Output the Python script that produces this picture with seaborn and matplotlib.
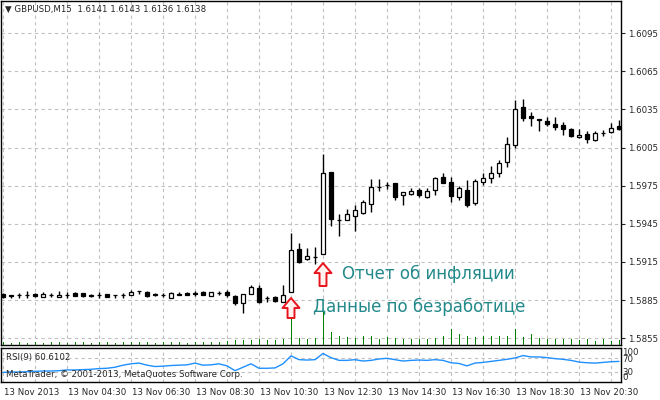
import matplotlib
matplotlib.use("Agg")
import matplotlib.pyplot as plt
import matplotlib.transforms as mtransforms
import numpy as np
import seaborn as sns

# GBPUSD M15, 13 Nov 2013, 02:30 .. 21:45
opens = [1.58897, 1.58889, 1.58889, 1.58893, 1.58897, 1.58874, 1.58889, 1.58874, 1.58889, 1.58905,
         1.58905, 1.58889, 1.58889, 1.58897, 1.58889, 1.58889, 1.58889, 1.58921, 1.58913, 1.58897,
         1.58889, 1.58866, 1.58901, 1.58909, 1.58905, 1.58917, 1.58881, 1.58905, 1.58913, 1.58881,
         1.58826, 1.58897, 1.58944, 1.58866, 1.58874, 1.58834, 1.58913, 1.59251, 1.59173, 1.59188,
         1.59212, 1.59857, 1.59483, 1.59480, 1.59511, 1.59535, 1.59606, 1.59739, 1.59755, 1.59771,
         1.59676, 1.59684, 1.59716, 1.59661, 1.59716, 1.59818, 1.59779, 1.59661, 1.59716, 1.59613,
         1.59779, 1.59810, 1.59849, 1.59936, 1.60070, 1.60369, 1.60298, 1.60274, 1.60259, 1.60235,
         1.60227, 1.60196, 1.60133, 1.60157, 1.60109, 1.60165, 1.60172, 1.60219]
highs = [1.58905, 1.58889, 1.58905, 1.58921, 1.58905, 1.58913, 1.58905, 1.58921, 1.58913, 1.58913,
         1.58905, 1.58897, 1.58913, 1.58897, 1.58889, 1.58905, 1.58929, 1.58921, 1.58921, 1.58905,
         1.58905, 1.58915, 1.58913, 1.58913, 1.58921, 1.58921, 1.58913, 1.58921, 1.58929, 1.58889,
         1.58897, 1.58968, 1.58968, 1.58881, 1.58881, 1.58968, 1.59377, 1.59299, 1.59259, 1.59267,
         1.59999, 1.59857, 1.59527, 1.59566, 1.59598, 1.59637, 1.59802, 1.59802, 1.59779, 1.59771,
         1.59700, 1.59731, 1.59731, 1.59731, 1.59818, 1.59849, 1.59818, 1.59747, 1.59794, 1.59802,
         1.59849, 1.59905, 1.59952, 1.60133, 1.60424, 1.60432, 1.60330, 1.60274, 1.60290, 1.60290,
         1.60251, 1.60204, 1.60196, 1.60180, 1.60180, 1.60188, 1.60243, 1.60266]
lows = [1.58866, 1.58866, 1.58866, 1.58866, 1.58874, 1.58874, 1.58874, 1.58874, 1.58866, 1.58881,
        1.58874, 1.58874, 1.58866, 1.58874, 1.58866, 1.58866, 1.58889, 1.58897, 1.58874, 1.58881,
        1.58874, 1.58866, 1.58889, 1.58889, 1.58881, 1.58889, 1.58881, 1.58889, 1.58874, 1.58811,
        1.58748, 1.58897, 1.58826, 1.58834, 1.58834, 1.58834, 1.58913, 1.59141, 1.59165, 1.59133,
        1.59212, 1.59432, 1.59354, 1.59480, 1.59393, 1.59527, 1.59543, 1.59708, 1.59724, 1.59637,
        1.59598, 1.59676, 1.59661, 1.59653, 1.59676, 1.59771, 1.59621, 1.59637, 1.59582, 1.59598,
        1.59755, 1.59771, 1.59818, 1.59897, 1.60046, 1.60259, 1.60219, 1.60180, 1.60219, 1.60188,
        1.60149, 1.60133, 1.60125, 1.60086, 1.60101, 1.60141, 1.60165, 1.60188]
closes = [1.58874, 1.58881, 1.58889, 1.58893, 1.58881, 1.58897, 1.58889, 1.58889, 1.58889, 1.58881,
          1.58881, 1.58881, 1.58889, 1.58874, 1.58889, 1.58889, 1.58913, 1.58921, 1.58881, 1.58889,
          1.58889, 1.58905, 1.58893, 1.58893, 1.58897, 1.58893, 1.58913, 1.58905, 1.58889, 1.58826,
          1.58897, 1.58952, 1.58834, 1.58866, 1.58842, 1.58889, 1.59244, 1.59149, 1.59196, 1.59188,
          1.59849, 1.59487, 1.59480, 1.59527, 1.59558, 1.59621, 1.59739, 1.59739, 1.59755, 1.59661,
          1.59700, 1.59708, 1.59676, 1.59708, 1.59810, 1.59771, 1.59668, 1.59731, 1.59598, 1.59787,
          1.59810, 1.59849, 1.59928, 1.60078, 1.60353, 1.60282, 1.60282, 1.60266, 1.60235, 1.60211,
          1.60200, 1.60141, 1.60149, 1.60117, 1.60165, 1.60165, 1.60204, 1.60196]
tick_volume = [75, 50, 75, 50, 75, 50, 75, 75, 50, 75, 75, 50, 75, 75, 50, 75, 75, 75, 75, 50,
               75, 75, 75, 50, 75, 75, 75, 75, 100, 125, 125, 125, 150, 125, 125, 150, 650, 175,
               150, 175, 825, 325, 225, 200, 175, 225, 225, 150, 200, 175, 150, 150, 150, 150,
               175, 225, 400, 275, 225, 200, 225, 225, 225, 225, 400, 200, 275, 175, 150, 150,
               150, 150, 125, 150, 100, 150, 100, 125]
rsi_values = [28.3, 29.3, 29.3, 30.3, 31.3, 32.3, 32.3, 33.3, 35.4, 35.4, 36.4, 37.4, 39.4, 40.4,
              43.4, 49.5, 53.5, 55.6, 49.5, 45.5, 46.5, 48.5, 49.5, 50.5, 55.6, 49.5, 50.5, 53.5,
              47.5, 33.3, 43.4, 53.5, 40.4, 40.4, 41.4, 53.5, 76.8, 65.7, 64.6, 65.7, 83.8, 71.7,
              63.6, 63.6, 65.7, 61.6, 63.6, 67.7, 69.7, 65.7, 61.6, 63.6, 64.6, 63.6, 65.7, 63.6,
              56.6, 54.5, 47.5, 55.6, 57.6, 60.6, 63.6, 66.7, 70.7, 77.8, 73.7, 73.7, 71.7, 68.7,
              66.7, 63.6, 58.6, 56.6, 55.6, 57.6, 59.6, 60.6]

price_ticks = [1.5855, 1.5885, 1.5915, 1.5945, 1.5975, 1.6005, 1.6035, 1.6065, 1.6095]
time_labels = ["13 Nov 2013", "13 Nov 04:30", "13 Nov 06:30", "13 Nov 08:30", "13 Nov 10:30",
               "13 Nov 12:30", "13 Nov 14:30", "13 Nov 16:30", "13 Nov 18:30", "13 Nov 20:30"]
rsi_levels = [0, 30, 70, 100]

GRID = "#c0c0c0"
SMALL = 6.2

sns.set_style("white")
plt.rcParams["font.family"] = ["DejaVu Sans"]

bars = np.arange(len(opens))
o = np.array(opens)
c = np.array(closes)
up = c >= o

fig = plt.figure(figsize=(6.6, 4.0), dpi=100)
ax = fig.add_axes([1 / 660, 55 / 400, 620 / 660, 344 / 400])
rsi_ax = fig.add_axes([1 / 660, 18 / 400, 620 / 660, 34 / 400], sharex=ax)

for a in (ax, rsi_ax):
    for s in a.spines.values():
        s.set_color("black")
        s.set_linewidth(1)
    a.set_xticks(np.arange(0, len(opens), 4), minor=True)
    a.grid(True, which="both", axis="x", color=GRID, linestyle=(0, (3, 3)), linewidth=0.8)
    a.set_axisbelow(True)

# main panel
ax.grid(True, axis="y", color=GRID, linestyle=(0, (3, 3)), linewidth=0.8)
vol_ax = ax.twinx()
vol_ax.vlines(bars, 0, tick_volume, color="#008000", linewidth=0.72, antialiased=False)
vol_ax.set_ylim(0, 8600)
vol_ax.axis("off")

ax.vlines(bars, lows, highs, color="black", linewidth=1, zorder=3)
ax.bar(bars[up], (c - o)[up], bottom=o[up], width=0.62, facecolor="white",
       edgecolor="black", linewidth=0.9, zorder=4)
ax.bar(bars[~up], (o - c)[~up], bottom=c[~up], width=0.62, facecolor="black",
       edgecolor="black", linewidth=0.9, zorder=4)

ax.set_xlim(-0.25, 77.25)
ax.set_ylim(1.58496, 1.61204)
ax.yaxis.tick_right()
ax.set_yticks(price_ticks)
ax.set_yticklabels([f"{p:.4f}" for p in price_ticks])
ax.tick_params(axis="y", which="major", direction="out", length=3, width=0.8,
               labelsize=SMALL, pad=2, right=True, left=False)
ax.tick_params(axis="x", which="both", length=0, labelbottom=False)

fig.text(5 / 660, 1 - 9 / 400, "\u25BC GBPUSD,M15  1.6141 1.6143 1.6136 1.6138",
         fontsize=SMALL, va="center", ha="left")

# news arrows and captions
def arrow_at(i, tip_pt, tail_pt):
    tip = mtransforms.offset_copy(ax.transData, fig=fig, y=-tip_pt, units="points")
    tail = mtransforms.offset_copy(ax.transData, fig=fig, y=-tail_pt, units="points")
    ax.annotate("", xy=(i, lows[i]), xycoords=tip, xytext=(i, lows[i]), textcoords=tail,
                arrowprops=dict(arrowstyle="simple,head_length=0.72,head_width=1.22,tail_width=0.5",
                                mutation_scale=10, fc="#fff2ee", ec="#e8141c", lw=1.4,
                                shrinkA=0, shrinkB=0), zorder=6)

news_color = "#23898a"
arrow_at(36, 4.3, 18.7)
ax.annotate("Данные по безработице", xy=(36, lows[36]), xytext=(15.8, -10.8),
            textcoords="offset points", va="center", ha="left", fontsize=12,
            color=news_color, zorder=6)
arrow_at(40, 6.5, 23.0)
ax.annotate("Отчет об инфляции", xy=(40, lows[40]), xytext=(13.7, -14.4),
            textcoords="offset points", va="center", ha="left", fontsize=12,
            color=news_color, zorder=6)

# RSI panel
sns.lineplot(x=bars, y=rsi_values, ax=rsi_ax, color="#1E90FF", linewidth=1)
for lvl in (30, 70):
    rsi_ax.axhline(lvl, color=GRID, linestyle=(0, (3, 3)), linewidth=0.8, zorder=0)
rsi_ax.set_ylim(0, 100)
rsi_ax.yaxis.tick_right()
rsi_ax.set_yticks(rsi_levels)
rsi_ax.set_yticklabels([str(v) for v in rsi_levels])
rsi_ax.tick_params(axis="y", length=0, labelsize=SMALL, pad=1)
for lbl, v in zip(rsi_ax.get_yticklabels(), rsi_levels):
    if v == 100:
        lbl.set_va("top")
    elif v == 0:
        lbl.set_va("bottom")
rsi_ax.set_ylabel("")
rsi_ax.text(0.008, 0.72, "RSI(9) 60.6102", transform=rsi_ax.transAxes, fontsize=SMALL,
            va="center", ha="left")
rsi_ax.text(0.008, 0.22, "MetaTrader, \u00A9 2001-2013, MetaQuotes Software Corp.",
            transform=rsi_ax.transAxes, fontsize=SMALL, va="center", ha="left")

rsi_ax.set_xticks(np.arange(0, len(opens), 8)[:len(time_labels)])
rsi_ax.set_xticklabels(time_labels, ha="left")
rsi_ax.tick_params(axis="x", which="major", direction="out", length=3, width=0.8,
                   labelsize=SMALL, pad=1.5, labelbottom=True)
rsi_ax.tick_params(axis="x", which="minor", length=0)
shift = mtransforms.ScaledTranslation(1 / 100, 0, fig.dpi_scale_trans)
for lbl in rsi_ax.get_xticklabels():
    lbl.set_transform(lbl.get_transform() + shift)

fig.savefig("out.png", dpi=100)
plt.close(fig)
